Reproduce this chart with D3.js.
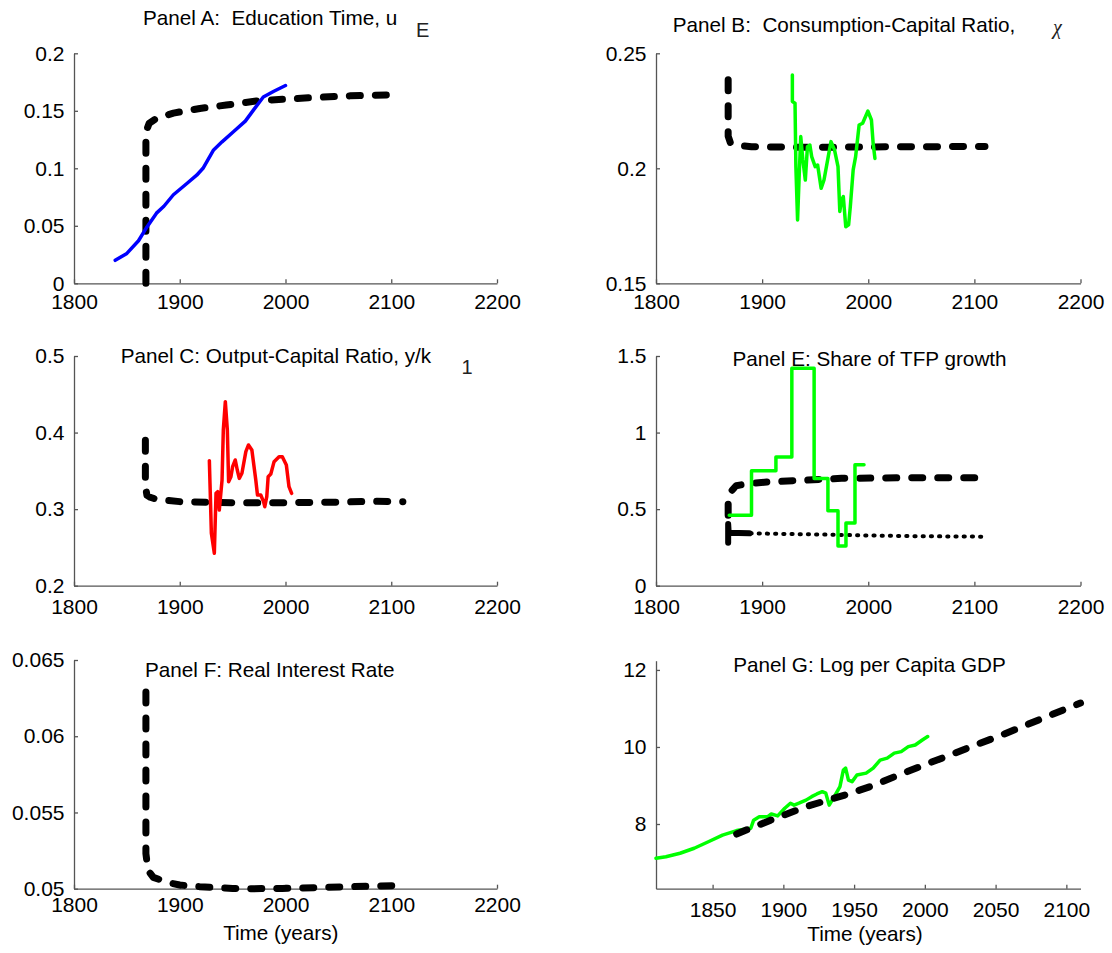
<!DOCTYPE html>
<html>
<head>
<meta charset="utf-8">
<script src="https://cdnjs.cloudflare.com/ajax/libs/d3/7.8.5/d3.min.js"></script>
<style>
body { margin: 0; background: #fff; }
svg { display: block; font-family: "Liberation Sans", Arial, sans-serif; }
</style>
</head>
<body>
<svg id="chart" width="1112" height="953"></svg>
<script>
var timeTicks = [1800, 1900, 2000, 2100, 2200];
var gdpTimeTicks = [1850, 1900, 1950, 2000, 2050, 2100];

// Panel A: education time
var eduYears = [1839, 1850, 1861, 1869, 1878, 1885, 1894, 1907, 1916, 1922, 1932, 1940, 1951, 1962, 1970, 1979, 1989, 2000];
var eduData = [0.020, 0.026, 0.037, 0.049, 0.061, 0.067, 0.077, 0.087, 0.094, 0.100, 0.116, 0.123, 0.132, 0.141, 0.151, 0.162, 0.167, 0.172];
var eduModelYears = [1868, 1868, 1869, 1871, 1878, 1894, 1919, 1944, 1976, 1998, 2030, 2061, 2100];
var eduModel = [0, 0.125, 0.134, 0.139, 0.1435, 0.148, 0.152, 0.155, 0.159, 0.160, 0.1617, 0.163, 0.1638];

// Panel B: consumption-capital ratio
var ckYears = [1928.5, 1928.5, 1931, 1931.8, 1933.4, 1935, 1936.4, 1938.4, 1940.7, 1942.7, 1945, 1946.7, 1950, 1952.3, 1955.6, 1958.3, 1962.3, 1964.9, 1968.2, 1971.5, 1973.2, 1974.8, 1976.5, 1978.8, 1981.5, 1983.1, 1985.8, 1988.1, 1991.4, 1994.7, 1999.7, 2003, 2004.6, 2006.3];
var ckData = [0.2406, 0.229, 0.2283, 0.2007, 0.1775, 0.1978, 0.2138, 0.2036, 0.1949, 0.2094, 0.2101, 0.2051, 0.2007, 0.2014, 0.1913, 0.1949, 0.2051, 0.2116, 0.2080, 0.2007, 0.1812, 0.1862, 0.1877, 0.1746, 0.1754, 0.1833, 0.1993, 0.2051, 0.2188, 0.2196, 0.2249, 0.221, 0.2109, 0.2043];
var ckModelYears = [1868, 1868, 1870, 1875, 1890, 1950, 2000, 2110];
var ckModel = [0.2385, 0.214, 0.2112, 0.2101, 0.2094, 0.2091, 0.2093, 0.2095];

// Panel C: output-capital ratio
var ykYears = [1928, 1928.6, 1929.9, 1932.7, 1934.3, 1935.9, 1937.4, 1940, 1941.2, 1943.1, 1945, 1946.2, 1948.4, 1950, 1952.5, 1954.4, 1956.3, 1958.8, 1962.5, 1965, 1968.2, 1971.9, 1973.5, 1976.6, 1979.2, 1980.4, 1982.3, 1983.6, 1986.1, 1989.2, 1993.9, 1997, 2000.8, 2003.3, 2005.8];
var ykData = [0.3633, 0.3337, 0.2684, 0.2423, 0.3206, 0.3228, 0.2989, 0.338, 0.4034, 0.4404, 0.4034, 0.3359, 0.3424, 0.3555, 0.3642, 0.3511, 0.3402, 0.3468, 0.3751, 0.3838, 0.3772, 0.338, 0.3185, 0.3185, 0.3098, 0.3032, 0.3163, 0.3424, 0.3459, 0.362, 0.3685, 0.3685, 0.3576, 0.3293, 0.3206];
var ykModelYears = [1867.5, 1867.5, 1869, 1872, 1878, 1900, 1950, 2000, 2044, 2082, 2111];
var ykModel = [0.390, 0.330, 0.318, 0.3155, 0.3128, 0.3098, 0.3084, 0.3084, 0.309, 0.3102, 0.3098];

// Panel E: share of TFP growth
var tfpStepYears = [1869, 1890, 1913, 1928, 1949, 1962, 1971.5, 1979, 1987.5, 1996];
var tfpStepData = [0.46, 0.75, 0.84, 1.42, 0.70, 0.49, 0.26, 0.41, 0.79, 0.79];
var tfpModelYears = [1868, 1868, 1870, 1875.5, 1888.7, 1908.6, 1941.7, 1974.8, 2041, 2111];
var tfpModel = [0.46, 0.56, 0.61, 0.653, 0.668, 0.679, 0.69, 0.701, 0.705, 0.705];
var tfpOtherYears = [1868, 1868, 1868.5, 1888, 1950, 2000, 2050, 2111];
var tfpOther = [0.281, 0.403, 0.346, 0.342, 0.335, 0.328, 0.323, 0.32];

// Panel F: real interest rate
var rateYears = [1868, 1868, 1870, 1875, 1890, 1900, 1919, 1950, 1970, 1997, 2028, 2060, 2105];
var rateModel = [0.0629, 0.0523, 0.0512, 0.05074, 0.05039, 0.05024, 0.05013, 0.05002, 0.05, 0.05002, 0.05007, 0.05013, 0.0502];

// Panel G: log per capita GDP
var gdpYears = [1810, 1817, 1827, 1837, 1847, 1857, 1867, 1877, 1879, 1883, 1889, 1891.5, 1896, 1901, 1905, 1907.6, 1911, 1916, 1920, 1923.7, 1927.5, 1930, 1932.4, 1936, 1940, 1942.4, 1944, 1946, 1948.6, 1952, 1958.5, 1963.5, 1968.4, 1973.4, 1978.4, 1983.3, 1988.3, 1993.2, 1998.2, 2002];
var gdpData = [7.11, 7.15, 7.24, 7.37, 7.54, 7.71, 7.83, 7.89, 8.10, 8.19, 8.19, 8.26, 8.21, 8.41, 8.54, 8.49, 8.54, 8.62, 8.71, 8.78, 8.84, 8.80, 8.49, 8.71, 8.97, 9.40, 9.45, 9.14, 9.10, 9.27, 9.32, 9.45, 9.66, 9.71, 9.84, 9.88, 10.01, 10.05, 10.18, 10.27];
var gdpModelYears = [1867, 1891, 1916, 1945, 1963, 1980, 1998, 2017, 2035, 2053, 2071, 2089, 2110];
var gdpModel = [7.74, 8.10, 8.45, 8.77, 8.99, 9.25, 9.51, 9.78, 10.04, 10.29, 10.56, 10.83, 11.14];

var svg = d3.select('#chart');
var colX = [[74, 497], [656, 1080.5]];
var rowY = [[53.3, 283.3], [356, 585.7], [660, 888.7]];

var styles = {
  model: {stroke: '#000', width: 7, dash: '11 15'},
  dotted: {stroke: '#000', width: 4, dash: '1.2 7'},
  solidBlack: {stroke: '#000', width: 6, dash: null},
  blue: {stroke: '#0000ff', width: 3.5, dash: null},
  green: {stroke: '#00ff00', width: 3.5, dash: null},
  red: {stroke: '#ff0000', width: 3.5, dash: null}
};

var panels = [
  {col: 0, row: 0, x: [1800, 2200], xTicks: timeTicks, y: [0, 0.2], yTicks: [0, 0.05, 0.1, 0.15, 0.2], pad: 11,
   title: ['Panel A:  Education Time, u', 143, 24.5], extra: ['E', 416, 36.5, 'sans'],
   series: [[eduModelYears, eduModel, 'model'], [eduYears, eduData, 'blue']]},
  {col: 1, row: 0, x: [1800, 2200], xTicks: timeTicks, y: [0.15, 0.25], yTicks: [0.15, 0.2, 0.25], pad: 11,
   title: ['Panel B:  Consumption-Capital Ratio,', 672.7, 32.3], extra: ['\u03c7', 1053, 33.5, 'serif'],
   series: [[ckModelYears, ckModel, 'model'], [ckYears, ckData, 'green']]},
  {col: 0, row: 1, x: [1800, 2200], xTicks: timeTicks, y: [0.2, 0.5], yTicks: [0.2, 0.3, 0.4, 0.5], pad: 13.4,
   title: ['Panel C: Output-Capital Ratio, y/k', 120.7, 362.7], extra: ['1', 461.5, 374.3, 'sans'],
   series: [[ykModelYears, ykModel, 'model'], [ykYears, ykData, 'red']]},
  {col: 1, row: 1, x: [1800, 2200], xTicks: timeTicks, y: [0, 1.5], yTicks: [0, 0.5, 1, 1.5], pad: 13.4,
   title: ['Panel E: Share of TFP growth', 732.5, 366],
   series: [[tfpOtherYears, tfpOther, 'dotted'], [tfpOtherYears.slice(0, 4), tfpOther.slice(0, 4), 'solidBlack'],
            [tfpModelYears, tfpModel, 'model'], [tfpStepYears, tfpStepData, 'green', d3.curveStepAfter]]},
  {col: 0, row: 2, x: [1800, 2200], xTicks: timeTicks, y: [0.05, 0.065], yTicks: [0.05, 0.055, 0.06, 0.065], pad: 8,
   title: ['Panel F: Real Interest Rate', 145, 677.3], xLabel: ['Time (years)', 280.8, 940],
   series: [[rateYears, rateModel, 'model']]},
  {col: 1, row: 2, x: [1810, 2110], xTicks: gdpTimeTicks, y: [6.32, 12.24], yTicks: [8, 10, 12], pad: 13.7, top: 660.7,
   title: ['Panel G: Log per Capita GDP', 733.2, 671.7], xLabel: ['Time (years)', 865, 941],
   series: [[gdpYears, gdpData, 'green'], [gdpModelYears, gdpModel, 'model']]}
];

function drawPanel(p) {
  var xr = colX[p.col], yr = rowY[p.row];
  var x = d3.scaleLinear().domain(p.x).range(xr);
  var y = d3.scaleLinear().domain(p.y).range([yr[1], p.top || yr[0]]);
  var g = svg.append('g');

  var fmt = function(d) { return String(+d.toFixed(4)); };
  var ax = g.append('g').attr('transform', 'translate(0,' + yr[1] + ')')
    .call(d3.axisBottom(x).tickValues(p.xTicks).tickFormat(fmt).tickSizeInner(-4).tickSizeOuter(0).tickPadding(p.pad));
  var ay = g.append('g').attr('transform', 'translate(' + xr[0] + ',0)')
    .call(d3.axisLeft(y).tickValues(p.yTicks).tickFormat(fmt).tickSizeInner(-4).tickSizeOuter(0).tickPadding(9.5));
  [ax, ay].forEach(function(a) {
    a.selectAll('path, line').attr('stroke', '#555').attr('stroke-width', 1.3);
    a.selectAll('text').attr('fill', '#000').style('font-size', '21px').style('font-family', '"Liberation Sans", Arial, sans-serif');
  });

  p.series.forEach(function(s) {
    var st = styles[s[2]];
    var line = d3.line().x(function(d) { return x(d[0]); }).y(function(d) { return y(d[1]); });
    if (s[3]) line.curve(s[3]);
    g.append('path').datum(d3.zip(s[0], s[1]))
      .attr('d', line)
      .attr('fill', 'none')
      .attr('stroke', st.stroke)
      .attr('stroke-width', st.width)
      .attr('stroke-dasharray', st.dash)
      .attr('stroke-linecap', 'round')
      .attr('stroke-linejoin', 'round');
  });

  g.append('text').attr('x', p.title[1]).attr('y', p.title[2])
    .style('font-size', '20.7px').style('white-space', 'pre').text(p.title[0]);
  if (p.extra) {
    g.append('text').attr('x', p.extra[1]).attr('y', p.extra[2])
      .style('font-size', '20px')
      .style('font-family', p.extra[3] == 'serif' ? '"Liberation Serif", "Times New Roman", serif' : null)
      .style('font-style', p.extra[3] == 'serif' ? 'italic' : null)
      .attr('fill', '#222')
      .text(p.extra[0]);
  }
  if (p.xLabel) {
    g.append('text').attr('x', p.xLabel[1]).attr('y', p.xLabel[2])
      .attr('text-anchor', 'middle').style('font-size', '20.7px').text(p.xLabel[0]);
  }
}

panels.forEach(drawPanel);
</script>
</body>
</html>
